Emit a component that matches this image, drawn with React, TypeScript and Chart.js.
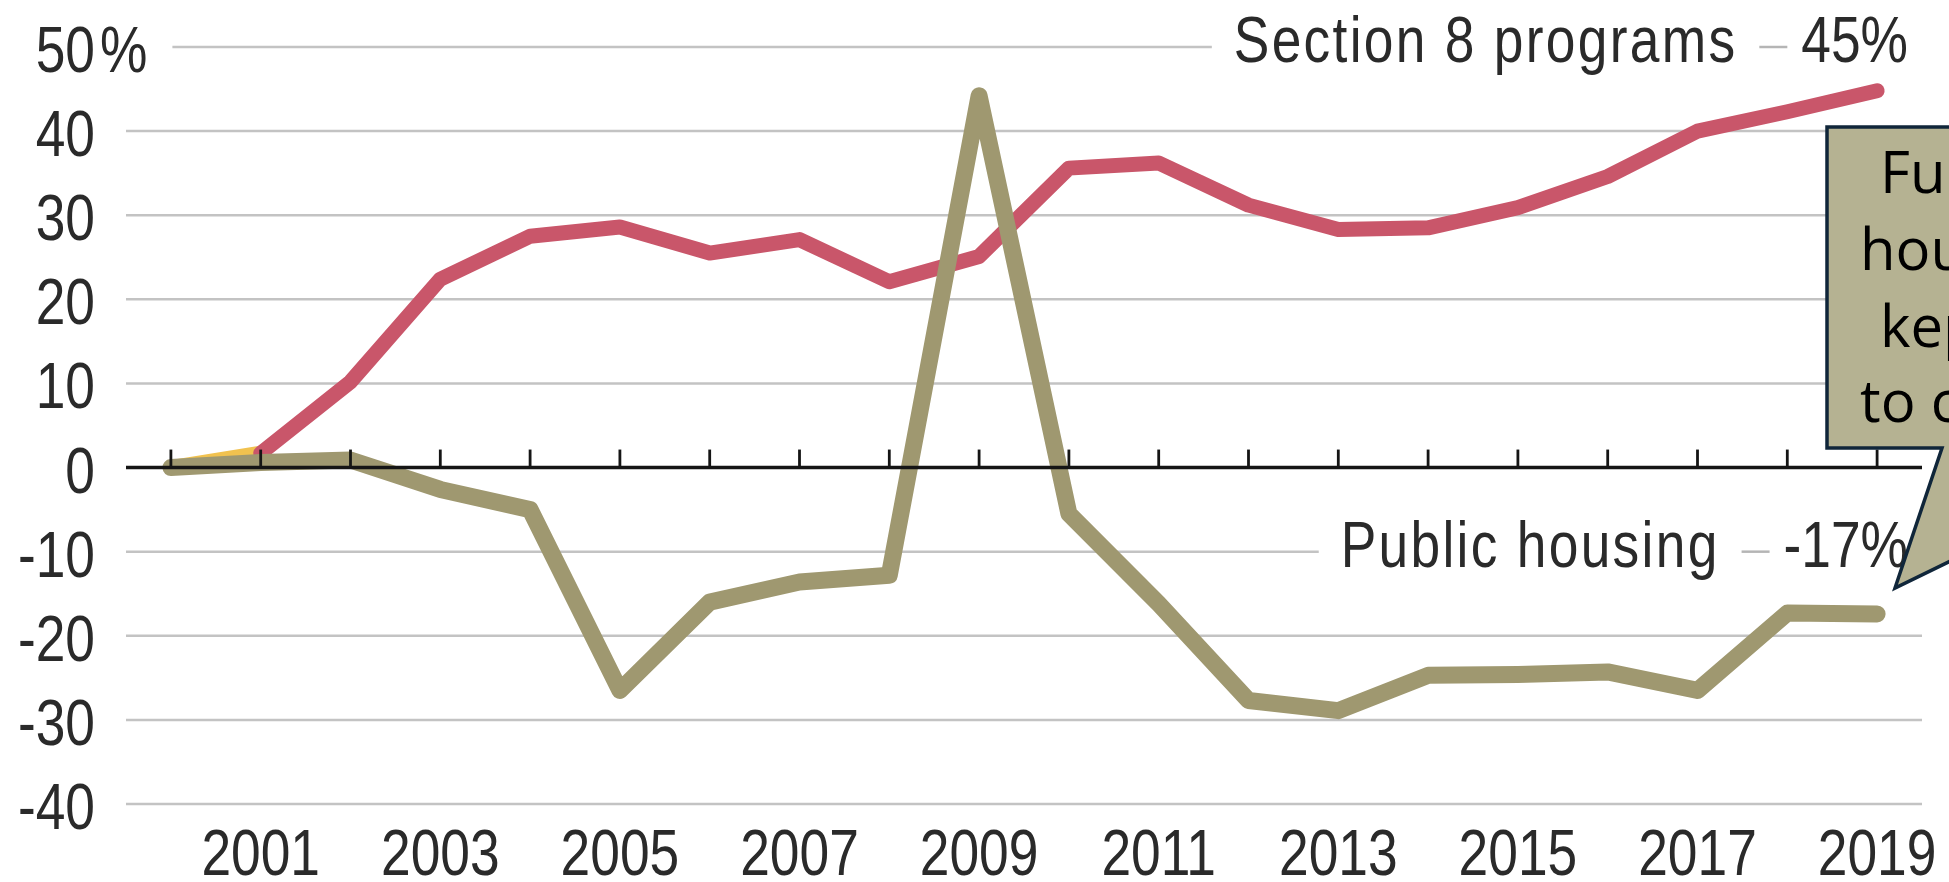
import React, { useEffect, useRef } from "react";
import { Chart, registerables } from "chart.js";

Chart.register(...registerables);

// ---- data ----
const years = [2000, 2001, 2002, 2003, 2004, 2005, 2006, 2007, 2008, 2009, 2010, 2011, 2012, 2013, 2014, 2015, 2016, 2017, 2018, 2019];
const section8Values = [0, 1.7, 10.2, 22.4, 27.5, 28.6, 25.5, 27.1, 22.1, 25.1, 35.6, 36.2, 31.2, 28.3, 28.5, 30.9, 34.6, 40.0, 42.3, 44.8];
const publicHousingValues = [0, 0.6, 0.9, -2.6, -5.0, -26.5, -16.0, -13.6, -12.8, 44.2, -5.5, -16.2, -27.7, -28.9, -24.7, -24.6, -24.3, -26.5, -17.3, -17.4];
const xTickLabels = ["2001", "2003", "2005", "2007", "2009", "2011", "2013", "2015", "2017", "2019"];
const yTickValues = [50, 40, 30, 20, 10, 0, -10, -20, -30, -40];
const section8Name = "Section 8 programs";
const section8End = "45%";
const publicHousingName = "Public housing";
const publicHousingEnd = "-17%";
const calloutLines = ["Funding for public", "housing has been", "kept from growing", "to cover costs"];

const FONT = "'Liberation Sans', Arial, sans-serif";
const SQUEEZE = 0.82;
const FSIZE = 65;
const LS = 2.8;
const RED = "#c9566a";
const OLIVE = "#9f9870";
const YELLOW = "#f1c24f";
const TEXT = "#2a2a2a";

function setFont(ctx: CanvasRenderingContext2D, spacing: number) {
  ctx.font = `${FSIZE}px ${FONT}`;
  (ctx as any).letterSpacing = `${spacing}px`;
}

function textW(ctx: CanvasRenderingContext2D, s: string, spacing: number) {
  setFont(ctx, spacing);
  const w = ctx.measureText(s).width * SQUEEZE;
  (ctx as any).letterSpacing = "0px";
  return w;
}

// draws squeezed (condensed) text with its alignment point at (x, y)
function drawText(ctx: CanvasRenderingContext2D, s: string, x: number, y: number, align: CanvasTextAlign, spacing = 0) {
  ctx.save();
  setFont(ctx, spacing);
  ctx.fillStyle = TEXT;
  ctx.textAlign = align;
  ctx.textBaseline = "alphabetic";
  ctx.translate(x, y);
  ctx.scale(SQUEEZE, 1);
  ctx.fillText(s, 0, 0);
  ctx.restore();
}

function seriesLabelLayout(ctx: CanvasRenderingContext2D, name: string, endText: string, right: number) {
  const endW = textW(ctx, endText, 0);
  const endStart = right - endW;
  const dashEnd = endStart - 14;
  const dashStart = dashEnd - 28;
  const nameW = textW(ctx, name, LS);
  const nameEnd = dashStart - 22;
  const nameStart = nameEnd - nameW;
  return { endStart, dashStart, dashEnd, nameStart, nameEnd };
}

const overlayPlugin = {
  id: "overlay",
  beforeDatasetsDraw(chart: any) {
    const { ctx, chartArea, scales } = chart;
    const y = scales.y;
    ctx.save();
    const right = chartArea.right - 14;
    const top = seriesLabelLayout(ctx, section8Name, section8End, right);
    const bot = seriesLabelLayout(ctx, publicHousingName, publicHousingEnd, right);
    const pctEnd = chartArea.left - 26 + textW(ctx, "%", 0);
    ctx.strokeStyle = "#c3c3c3";
    ctx.lineWidth = 2.5;
    for (const v of yTickValues) {
      if (v === 0) continue;
      const py = y.getPixelForValue(v);
      let x0 = chartArea.left;
      let x1 = chartArea.right;
      if (v === 50) {
        x0 = pctEnd + 25;
        x1 = top.nameStart - 22;
      }
      if (v === -10) {
        x1 = bot.nameStart - 22;
      }
      ctx.beginPath();
      ctx.moveTo(x0, py);
      ctx.lineTo(x1, py);
      ctx.stroke();
    }
    ctx.restore();
  },
  afterDatasetsDraw(chart: any) {
    const { ctx, chartArea, scales } = chart;
    const x = scales.x;
    const y = scales.y;
    ctx.save();
    // zero axis line with year ticks
    const p0 = y.getPixelForValue(0);
    ctx.strokeStyle = "#151515";
    ctx.lineWidth = 3.5;
    ctx.beginPath();
    ctx.moveTo(chartArea.left, p0);
    ctx.lineTo(chartArea.right, p0);
    ctx.stroke();
    ctx.lineWidth = 2.8;
    for (const t of x.ticks) {
      const px = x.getPixelForValue(t.value);
      ctx.beginPath();
      ctx.moveTo(px, p0);
      ctx.lineTo(px, p0 - 18);
      ctx.stroke();
    }

    // y tick labels (from the scale's ticks)
    for (const t of y.ticks) {
      const py = y.getPixelForValue(t.value);
      drawText(ctx, String(t.value), chartArea.left - 31, py + 25, "right");
      if (t.value === 50) drawText(ctx, "%", chartArea.left - 26, py + 25, "left");
    }
    // x tick labels
    for (const t of x.ticks) {
      const lab = String(t.value);
      if (!xTickLabels.includes(lab)) continue;
      drawText(ctx, lab, x.getPixelForValue(t.value), chartArea.bottom + 71, "center");
    }

    // series labels
    const right = chartArea.right - 14;
    const items = [
      { name: section8Name, end: section8End, value: 50 },
      { name: publicHousingName, end: publicHousingEnd, value: -10 },
    ];
    for (const it of items) {
      const lay = seriesLabelLayout(ctx, it.name, it.end, right);
      const py = y.getPixelForValue(it.value);
      drawText(ctx, it.name, lay.nameStart, py + 15, "left", LS);
      drawText(ctx, it.end, lay.endStart, py + 15, "left", 0);
      ctx.strokeStyle = "#b5b5b5";
      ctx.lineWidth = 2.5;
      ctx.beginPath();
      ctx.moveTo(lay.dashStart, py);
      ctx.lineTo(lay.dashEnd, py);
      ctx.stroke();
    }
    ctx.restore();
  },
};

function Callout() {
  return (
    <svg
      width={1949}
      height={882}
      style={{ position: "absolute", left: 0, top: 0, pointerEvents: "none" }}
    >
      <path
        d="M 2400 127 L 1827 127 L 1827 448 L 1942 448 L 1895 588 L 2183 448 L 2400 448 Z"
        fill="#b5b292"
        stroke="#10263a"
        strokeWidth={3.5}
        strokeLinejoin="miter"
      />
      <g fontFamily="'Open Sans', 'Noto Sans', sans-serif" fontSize={58} fill="#000">
        <text x={1880} y={193}>{calloutLines[0]}</text>
        <text x={1860} y={270}>{calloutLines[1]}</text>
        <text x={1880} y={347}>{calloutLines[2]}</text>
        <text x={1860} y={422}>{calloutLines[3]}</text>
      </g>
    </svg>
  );
}

export default function App() {
  const canvasRef = useRef<HTMLCanvasElement | null>(null);

  useEffect(() => {
    if (!canvasRef.current) return;
    const chart = new Chart(canvasRef.current, {
      type: "line",
      data: {
        datasets: [
          {
            label: publicHousingName,
            data: years.map((yr, i) => ({ x: yr, y: publicHousingValues[i] })),
            borderColor: OLIVE,
            borderWidth: 17,
            borderCapStyle: "round",
            borderJoinStyle: "round",
            pointRadius: 0,
            tension: 0,
          },
          {
            label: section8Name,
            data: years.map((yr, i) => ({ x: yr, y: section8Values[i] })),
            borderColor: RED,
            borderWidth: 15,
            borderCapStyle: "round",
            borderJoinStyle: "round",
            pointRadius: 0,
            tension: 0,
            segment: {
              borderColor: (c: any) => (c.p0DataIndex === 0 ? YELLOW : undefined),
            },
          },
        ],
      } as any,
      options: {
        animation: false,
        responsive: true,
        maintainAspectRatio: false,
        layout: { padding: { top: 47, right: 27, bottom: 0, left: 0 } },
        plugins: { legend: { display: false }, tooltip: { enabled: false } },
        scales: {
          x: {
            type: "linear",
            min: 1999.5,
            max: 2019.5,
            grid: { display: false, drawTicks: false },
            border: { display: false },
            afterBuildTicks: (s: any) => {
              s.ticks = years.map((v) => ({ value: v }));
            },
            afterFit: (s: any) => {
              s.height = 78;
            },
            ticks: { display: false, autoSkip: false },
          },
          y: {
            type: "linear",
            min: -40,
            max: 50,
            grid: { display: false, drawTicks: false },
            border: { display: false },
            afterBuildTicks: (s: any) => {
              s.ticks = yTickValues.map((v) => ({ value: v }));
            },
            afterFit: (s: any) => {
              s.width = 126;
            },
            ticks: { display: false },
          },
        },
      } as any,
      plugins: [overlayPlugin as any],
    });
    return () => chart.destroy();
  }, []);

  return (
    <div
      style={{
        position: "fixed",
        left: 0,
        top: 0,
        width: "100vw",
        height: "100vh",
        overflow: "hidden",
        background: "#fff",
      }}
    >
      <div style={{ position: "absolute", left: 0, top: 0, width: 1949, height: 882 }}>
        <canvas ref={canvasRef} />
      </div>
      <Callout />
    </div>
  );
}
